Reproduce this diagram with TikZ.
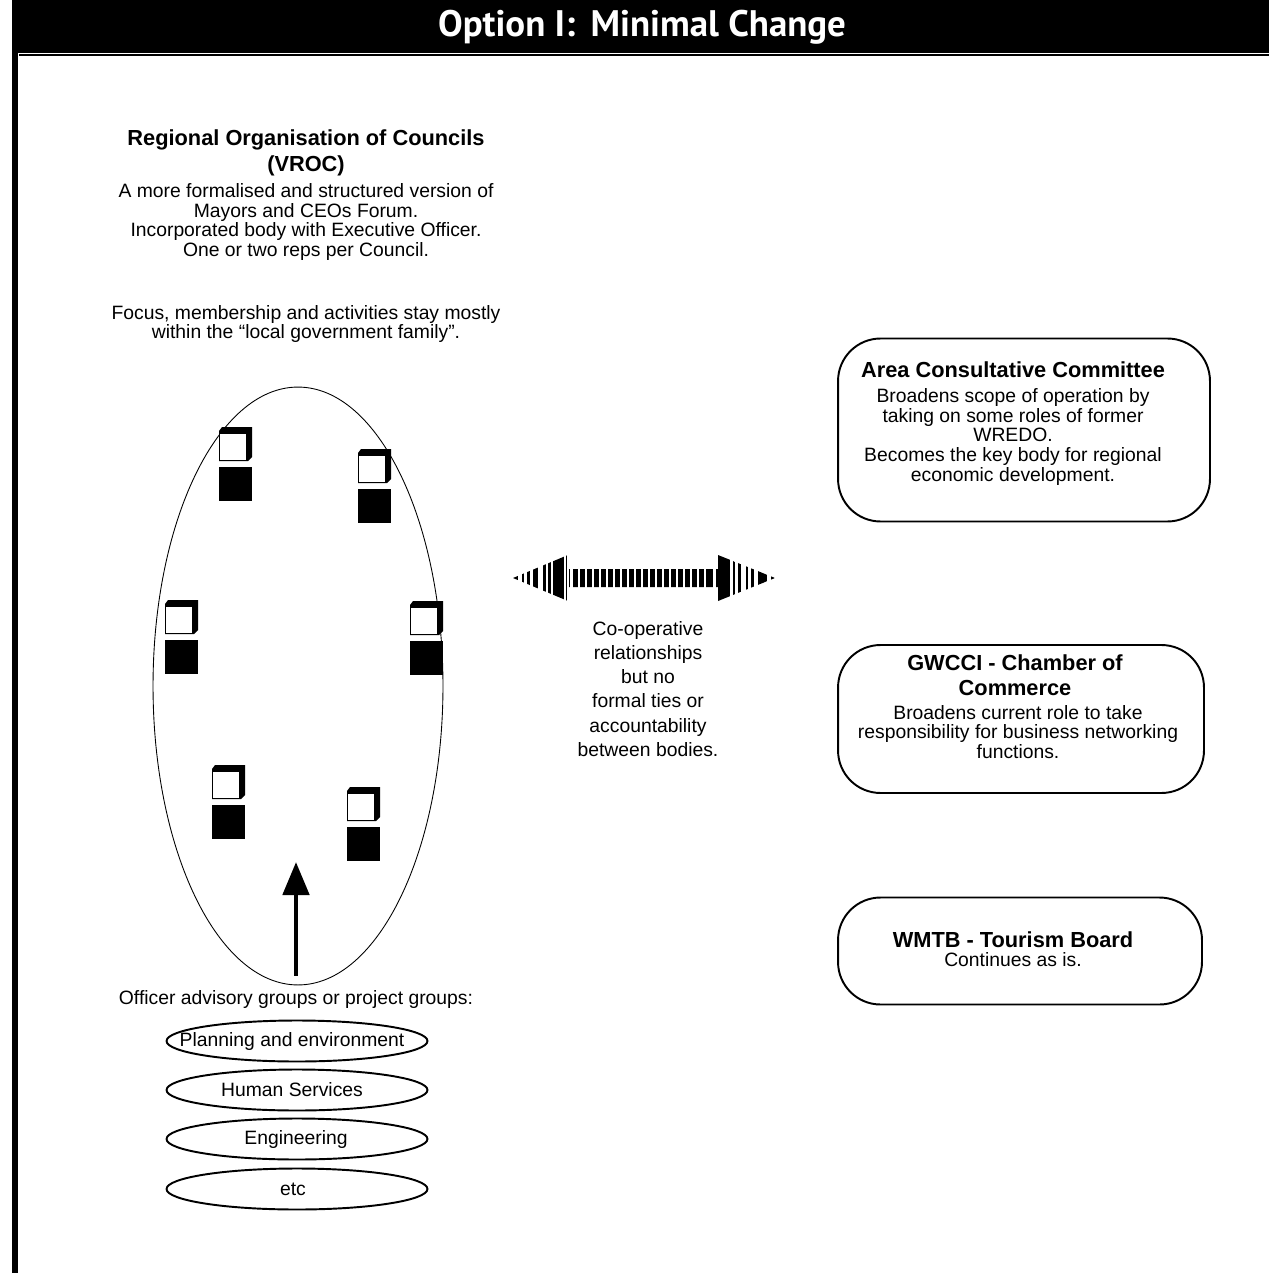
\documentclass[tikz,border=0pt]{standalone}
\usepackage{fontspec}
\setmainfont{Liberation Sans}
\newfontfamily\titlefont{PT Sans}
\usetikzlibrary{arrows.meta,shapes.geometric,positioning}

\tikzset{
  bodytext/.style={align=center, inner sep=0pt, font=\fontsize{11}{11.1}\selectfont},
  headtext/.style={align=center, inner sep=0pt, font=\fontsize{12.4}{14.5}\selectfont\bfseries},
  bodybox/.style={draw, line width=1.1pt, rounded corners=0.85cm, inner sep=0pt},
  groupring/.style={draw, ellipse, line width=1.1pt, inner sep=0pt,
    minimum width=5.22cm, minimum height=0.82cm},
  member/.pic={
    \fill (3,0) -- (33,0) -- (33,30) -- (29,34) -- (0,34) -- (0,4) -- cycle;
    \filldraw[fill=white, line width=0.4pt] (0.5,6) rectangle (27.5,33.5);
    \fill (0,40) rectangle (33,74);
  }
}

\begin{document}
\begin{tikzpicture}[x=0.02cm, y=-0.02cm]
  \useasboundingbox (0,0) rectangle (1269,1273);
  % title bar and frame
  \fill (12,0) rectangle (1269,53);
  \fill (12,0) rectangle (18,1273);
  \draw[line width=0.6pt] (19,55) -- (1269,55);
  \node (title) at (642,27) [text=white,
    font=\titlefont\fontsize{21}{21}\selectfont\bfseries] {Option I:\, Minimal Change};

  % regional organisation
  \node[headtext] (roctitle) at (306,153) {Regional Organisation of Councils\\(VROC)};
  \node[bodytext] (rocdesc) at (306,222)
    {A more formalised and structured version of\\Mayors and CEOs Forum.\\
     Incorporated body with Executive Officer.\\One or two reps per Council.};
  \node[bodytext] (rocfocus) at (306,324)
    {Focus, membership and activities stay mostly\\within the “local government family”.};
  \node[draw, ellipse, line width=0.5pt, inner sep=0pt,
    minimum width=5.8cm, minimum height=11.96cm] (roc) at (298,686) {};

  % councils
  \pic at (219,427) {member};
  \pic at (358,449) {member};
  \pic at (165,600) {member};
  \pic at (410,601) {member};
  \pic at (212,765) {member};
  \pic at (347,787) {member};

  % striped two-way arrow
  \begin{scope}
    \clip (513,578) -- (568,555) -- (568,569) -- (718,569) -- (718,555) -- (775,578)
      -- (718,601) -- (718,587) -- (568,587) -- (568,601) -- cycle;
    \foreach \a/\b in {513/517.5, 521.5/524, 526.5/530, 533/537.5, 543/545.5,
        547.5/550.5, 553/563.5, 565.5/567, 568.5/570,
        711/713, 715.5/730, 732.5/735, 737.5/741, 745.5/748, 750.5/753.5,
        758/767, 770.5/775}
      \fill (\a,550) rectangle (\b,606);
    \foreach \x in {573,580,...,706}
      \fill (\x,550) rectangle ++(4.5,56);
  \end{scope}
  \node[bodytext, font=\fontsize{11}{13.7}\selectfont] (coop) at (648,689)
    {Co-operative\\relationships\\but no\\formal ties or\\accountability\\between bodies.};

  % other regional bodies
  \node[bodybox, minimum width=7.44cm, minimum height=3.66cm] (acc) at (1024,430) {};
  \node[headtext] (acchead) at (1013,370) {Area Consultative Committee};
  \node[bodytext] (acctext) at (1013,437)
    {Broadens scope of operation by\\taking on some roles of former\\WREDO.\\
     Becomes the key body for regional\\economic development.};

  \node[bodybox, minimum width=7.32cm, minimum height=2.96cm] (gwcci) at (1021,719) {};
  \node[headtext] (gwccihead) at (1015,675) {GWCCI - Chamber of\\Commerce};
  \node[bodytext] (gwccitext) at (1018,732)
    {Broadens current role to take\\responsibility for business networking\\functions.};

  \node[bodybox, minimum width=7.28cm, minimum height=2.14cm] (wmtb) at (1020,951) {};
  \node[headtext] (wmtbhead) at (1013,940) {WMTB - Tourism Board};
  \node[bodytext] (wmtbtext) at (1013,960) {Continues as is.};

  % officer groups
  \node[bodytext] (groups) at (296,999) {Officer advisory groups or project groups:};
  \coordinate (roctip) at (296,862);
  \draw[line width=2.8pt, -{Triangle[length=0.66cm, width=0.52cm]}, shorten <=8pt]
    (groups.north) -- (roctip);

  \node[groupring] (planring) at (297,1041) {};
  \node[groupring] (humanring) at (297,1090) {};
  \node[groupring] (engring) at (297,1139) {};
  \node[groupring] (etcring) at (297,1189) {};
  \node[bodytext] (plan) at (292,1041) {Planning and environment};
  \node[bodytext] (human) at (292,1090) {Human Services};
  \node[bodytext] (eng) at (296,1139) {Engineering};
  \node[bodytext] (etc) at (293,1189) {etc};
\end{tikzpicture}
\end{document}
